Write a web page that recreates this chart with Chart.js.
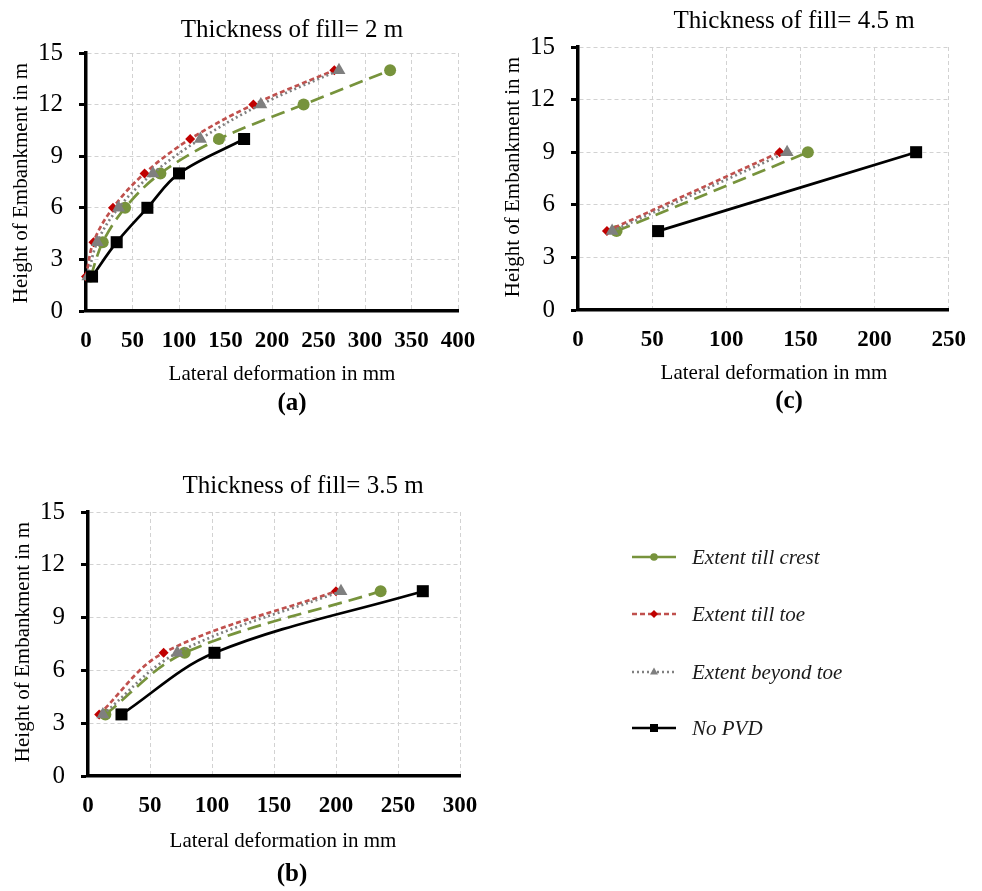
<!DOCTYPE html>
<html>
<head>
<meta charset="utf-8">
<script src="https://cdn.jsdelivr.net/npm/chart.js@4/dist/chart.umd.min.js"></script>
<style>
  html, body { margin: 0; padding: 0; background: #fff; }
  #wrap { position: relative; width: 982px; height: 891px; overflow: hidden; }
  #wrap canvas { position: absolute; left: 0; top: 0; }
  #legend { position: absolute; left: 0; top: 0; width: 982px; height: 891px; filter: blur(0.5px); }
  .item { position: absolute; left: 630px; height: 24px; display: flex; align-items: center;
          font: italic 21px "Liberation Serif", "Times New Roman", serif; color: #1a1a1a; white-space: nowrap; }
  .item svg { margin-right: 14px; }
</style>
</head>
<body>
<div id="wrap">
  <canvas id="panelA" width="982" height="891"></canvas>
  <canvas id="panelC" width="982" height="891"></canvas>
  <canvas id="panelB" width="982" height="891"></canvas>
  <div id="legend"></div>
</div>
<script>
// Series names (PVD extent cases)
const seriesNames = ['Extent till crest', 'Extent till toe', 'Extent beyond toe', 'No PVD'];

// (a) Thickness of fill = 2 m : embankment height (m) vs lateral deformation (mm)
const heightsA   = [2, 4, 6, 8, 10, 12, 14];
const crestA     = [5, 18, 42, 80, 143, 234, 327];
const toeA       = [0, 8, 29, 63, 112, 180, 267];
const beyondA    = [2, 12, 35, 72, 123, 188, 272];
const heightsA0  = [2, 4, 6, 8, 10];
const noPvdA     = [6.5, 33, 66, 100, 170];

// (c) Thickness of fill = 4.5 m
const heightsC   = [4.5, 9];
const crestC     = [26, 155];
const toeC       = [19.5, 136];
const beyondC    = [23, 141];
const noPvdC     = [54, 228];

// (b) Thickness of fill = 3.5 m
const heightsB   = [3.5, 7, 10.5];
const crestB     = [14, 78, 236];
const toeB       = [9, 61, 200];
const beyondB    = [12, 72, 204];
const noPvdB     = [27, 102, 270];

// Axis ticks
const yTickStep = 3;
const yMax = 15;
const xTickStep = 50;

const FONT = '"Liberation Serif", "Times New Roman", serif';

const styles = [
  { color: '#77933C', point: '#77933C', dash: [14, 7], pointStyle: 'circle',   radius: 6,   order: 3 },
  { color: '#C0504D', point: '#C00000', dash: [5, 3],  pointStyle: 'rectRot',  radius: 5,   order: 2 },
  { color: '#808080', point: '#7F7F7F', dash: [2, 3],  pointStyle: 'triangle', radius: 7.5, order: 1 },
  { color: '#000000', point: '#000000', dash: [],      pointStyle: 'rect',     radius: 8.5, order: 0 }
];

function toPoints(xs, ys) {
  return xs.map((x, i) => ({ x: x, y: ys[i] }));
}

// Panel titles, axis titles and captions
const panelText = {
  id: 'panelText',
  afterDraw(chart, args, o) {
    const ctx = chart.ctx;
    ctx.save();
    ctx.fillStyle = '#000';
    ctx.textAlign = 'center';
    ctx.textBaseline = 'alphabetic';
    ctx.font = '25px ' + FONT;
    ctx.fillText(o.title, o.titleX, o.titleY);
    ctx.font = '21px ' + FONT;
    ctx.fillText(o.xTitle, o.xTitleX, o.xTitleY);
    ctx.font = 'bold 25px ' + FONT;
    ctx.fillText(o.caption, o.capX, o.capY);
    ctx.translate(o.yTitleX, o.yTitleY);
    ctx.rotate(-Math.PI / 2);
    ctx.font = '21px ' + FONT;
    ctx.textBaseline = 'middle';
    ctx.fillText(o.yTitle, 0, 0);
    ctx.restore();
  }
};

function makePanel(id, cfg) {
  const datasets = cfg.series.map((s, i) => ({
    label: seriesNames[i],
    data: toPoints(s.x, s.y),
    borderColor: styles[i].color,
    backgroundColor: styles[i].point,
    pointBorderColor: styles[i].point,
    pointBackgroundColor: styles[i].point,
    borderDash: styles[i].dash,
    borderWidth: 2.7,
    pointStyle: styles[i].pointStyle,
    pointRadius: styles[i].radius,
    pointBorderWidth: 0,
    tension: 0.35,
    fill: false,
    clip: false,
    order: styles[i].order
  }));

  new Chart(document.getElementById(id), {
    type: 'line',
    data: { datasets },
    options: {
      responsive: false,
      animation: false,
      events: [],
      layout: { padding: cfg.padding },
      plugins: {
        legend: { display: false },
        tooltip: { enabled: false },
        title: { display: false },
        panelText: cfg.text
      },
      scales: {
        x: {
          type: 'linear',
          min: 0,
          max: cfg.xMax,
          ticks: {
            stepSize: xTickStep,
            color: '#000',
            padding: 16,
            maxRotation: 0,
            autoSkip: false,
            font: { family: FONT, size: 23, weight: 'bold' }
          },
          grid: { color: '#d2d2d2', lineWidth: 1, drawTicks: false },
          border: { color: '#000', width: 3.5, dash: [4, 3] },
          afterFit(scale) { scale.height = 50; }
        },
        y: {
          type: 'linear',
          min: 0,
          max: yMax,
          ticks: {
            stepSize: yTickStep,
            color: '#000',
            padding: 16,
            font: { family: FONT, size: 25 }
          },
          grid: { color: '#d2d2d2', lineWidth: 1, tickColor: '#000', tickLength: 7, tickWidth: 3, tickBorderDash: [] },
          border: { color: '#000', width: 3.5, dash: [4, 3] },
          afterFit(scale) { scale.width = 86; }
        }
      }
    },
    plugins: [panelText]
  });
}

const yTitle = 'Height of Embankment in m';
const xTitle = 'Lateral deformation in mm';

makePanel('panelA', {
  xMax: 400,
  padding: { left: 0, top: 53, right: 524, bottom: 891 - 311 - 50 },
  series: [
    { x: crestA, y: heightsA },
    { x: toeA, y: heightsA },
    { x: beyondA, y: heightsA },
    { x: noPvdA, y: heightsA0 }
  ],
  text: {
    title: 'Thickness of fill= 2 m', titleX: 292, titleY: 37,
    xTitle: xTitle, xTitleX: 282, xTitleY: 380,
    yTitle: yTitle, yTitleX: 21, yTitleY: 183,
    caption: '(a)', capX: 292, capY: 410
  }
});

makePanel('panelC', {
  xMax: 250,
  padding: { left: 578 - 86, top: 47, right: 982 - 950, bottom: 891 - 310 - 50 },
  series: [
    { x: crestC, y: heightsC },
    { x: toeC, y: heightsC },
    { x: beyondC, y: heightsC },
    { x: noPvdC, y: heightsC }
  ],
  text: {
    title: 'Thickness of fill= 4.5 m', titleX: 794, titleY: 28,
    xTitle: xTitle, xTitleX: 774, xTitleY: 379,
    yTitle: yTitle, yTitleX: 513, yTitleY: 177,
    caption: '(c)', capX: 789, capY: 408
  }
});

makePanel('panelB', {
  xMax: 300,
  padding: { left: 88 - 86, top: 512, right: 982 - 460, bottom: 891 - 776 - 50 },
  series: [
    { x: crestB, y: heightsB },
    { x: toeB, y: heightsB },
    { x: beyondB, y: heightsB },
    { x: noPvdB, y: heightsB }
  ],
  text: {
    title: 'Thickness of fill= 3.5 m', titleX: 303, titleY: 493,
    xTitle: xTitle, xTitleX: 283, xTitleY: 847,
    yTitle: yTitle, yTitleX: 23, yTitleY: 642,
    caption: '(b)', capX: 292, capY: 881
  }
});

// Shared legend for all three panels
const legendRows = [557, 614, 672, 728];
const legendLineDash = ['', '5 3', '2 3', ''];
function markerSvg(i) {
  const c = styles[i].point;
  if (i === 0) return `<circle cx="24" cy="8" r="3.8" fill="${c}"/>`;
  if (i === 1) return `<polygon points="24,4 28,8 24,12 20,8" fill="${c}"/>`;
  if (i === 2) return `<polygon points="24,3.5 28,10.5 20,10.5" fill="${c}"/>`;
  return `<rect x="20" y="4" width="8" height="8" fill="${c}"/>`;
}
const legend = document.getElementById('legend');
seriesNames.forEach((name, i) => {
  const row = document.createElement('div');
  row.className = 'item';
  row.style.top = (legendRows[i] - 12) + 'px';
  row.innerHTML =
    `<svg width="48" height="16" viewBox="0 0 48 16">` +
    `<line x1="2" y1="8" x2="46" y2="8" stroke="${styles[i].color}" stroke-width="2.5"` +
    (legendLineDash[i] ? ` stroke-dasharray="${legendLineDash[i]}"` : '') + `/>` +
    markerSvg(i) + `</svg><span>${name}</span>`;
  legend.appendChild(row);
});
</script>
</body>
</html>
